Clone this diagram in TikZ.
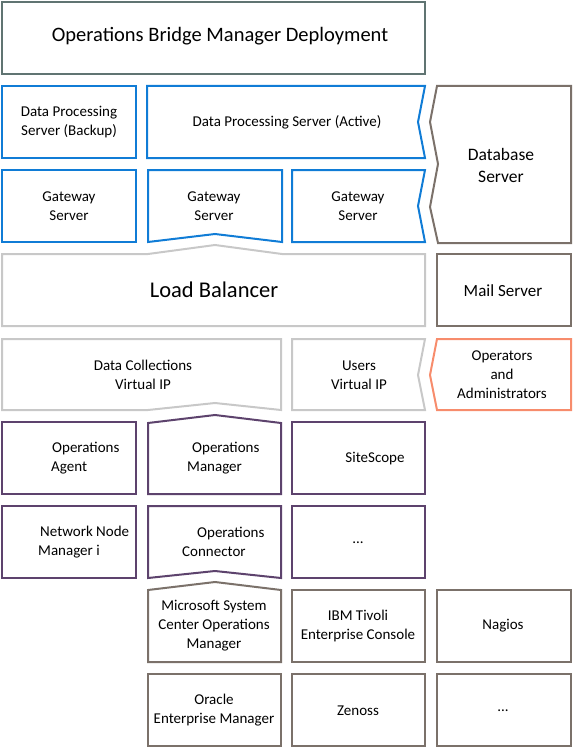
\documentclass[tikz,border=0pt]{standalone}
\usepackage{fontspec}
\setmainfont{Carlito}
\definecolor{blueC}{RGB}{16,124,214}
\definecolor{grayL}{RGB}{200,200,200}
\definecolor{brownC}{RGB}{123,113,106}
\definecolor{purpC}{RGB}{93,67,109}
\definecolor{orangeC}{RGB}{247,140,108}
\definecolor{titleC}{RGB}{96,116,114}
\begin{document}
\begin{tikzpicture}[x=1pt,y=-1pt,
  box/.style={line width=2pt,line join=miter},
  bluebox/.style={box,draw=blueC},
  graybox/.style={box,draw=grayL},
  brownbox/.style={box,draw=brownC},
  purpbox/.style={box,draw=purpC},
  orangebox/.style={box,draw=orangeC},
  titlebox/.style={box,draw=titleC,line width=2.4pt},
  lbl/.style={inner sep=0pt,align=center,font=\fontsize{15}{19}\selectfont},
  lbll/.style={lbl,align=left,anchor=west}]
\useasboundingbox (0,0) rectangle (573,749);
% title
\draw[titlebox] (2,2) rectangle (425,74);
\node[lbl,font=\fontsize{20.5}{24}\selectfont] (title) at (220,36) {Operations Bridge Manager Deployment};
% row 1
\draw[bluebox] (2,86) rectangle (136,158);
\node[lbl] (dpsb) at (69,122) {Data Processing\\Server (Backup)};
\draw[bluebox] (147,86) -- (425,86) -- (418,122) -- (425,158) -- (147,158) -- cycle;
\node[lbl] (dpsa) at (287,122) {Data Processing Server (Active)};
\draw[brownbox] (437,86) -- (571,86) -- (571,243) -- (438,243) -- (430,207) -- (438,164) -- (430,122) -- cycle;
\node[lbl,font=\fontsize{17.5}{22}\selectfont] (db) at (501,165) {Database\\Server};
% row 2
\draw[bluebox] (2,170) rectangle (136,242);
\node[lbl] (gw1) at (69,206) {Gateway\\Server};
\draw[bluebox] (148,170) -- (282,170) -- (282,242) -- (215,234) -- (148,242) -- cycle;
\node[lbl] (gw2) at (214,206) {Gateway\\Server};
\draw[bluebox] (292,170) -- (425,170) -- (418,206) -- (425,242) -- (292,242) -- cycle;
\node[lbl] (gw3) at (358,206) {Gateway\\Server};
% row 3
\draw[graybox] (2,254) -- (148,254) -- (215,245) -- (282,254) -- (425,254) -- (425,326) -- (2,326) -- cycle;
\node[lbl,font=\fontsize{22.5}{26}\selectfont] (lb) at (214,290) {Load Balancer};
\draw[brownbox] (437,254) rectangle (571,326);
\node[lbl,font=\fontsize{17}{19}\selectfont] (mail) at (503,291) {Mail Server};
% row 4
\draw[graybox] (2,339) -- (281,339) -- (281,410) -- (215,403) -- (148,410) -- (2,410) -- cycle;
\node[lbl] (dcvip) at (143,375) {Data Collections\\Virtual IP};
\draw[graybox] (292,339) -- (425,339) -- (418,375) -- (425,410) -- (292,410) -- cycle;
\node[lbl] (uvip) at (359,375) {Users\\Virtual IP};
\draw[orangebox] (437,339) -- (571,339) -- (571,410) -- (437,410) -- (430,375) -- cycle;
\node[lbl] (ops) at (502,375) {Operators\\and\\Administrators};
% row 5
\draw[purpbox] (2,422) rectangle (136,494);
\node[lbll] (oa) at (51,458) {\hspace*{1pt}Operations\\Agent};
\draw[purpbox] (148,423) -- (215,415) -- (281,423) -- (281,494) -- (148,494) -- cycle;
\node[lbll] (om) at (187,458) {\hspace*{5pt}Operations\\Manager};
\draw[purpbox] (292,422) rectangle (425,494);
\node[lbl] (ss) at (375,459) {SiteScope};
% row 6
\draw[purpbox] (2,506) rectangle (136,578);
\node[lbll] (nnm) at (38,542) {\hspace*{2pt}Network Node\\Manager i};
\draw[purpbox] (148,506) -- (281,506) -- (281,578) -- (215,571) -- (148,578) -- cycle;
\node[lbll] (oc) at (182,542) {\hspace*{15pt}Operations\\Connector};
\draw[purpbox] (292,506) rectangle (425,578);
\node[lbl] (dots1) at (358,543) {...};
% row 7
\draw[brownbox] (148,590) -- (215,582) -- (281,590) -- (281,662) -- (148,662) -- cycle;
\node[lbl] (scom) at (214,626) {Microsoft System\\Center Operations\\Manager};
\draw[brownbox] (292,590) rectangle (425,662);
\node[lbl] (ibm) at (358,626) {IBM Tivoli\\Enterprise Console};
\draw[brownbox] (437,590) rectangle (571,662);
\node[lbl] (nag) at (503,626) {Nagios};
% row 8
\draw[brownbox] (148,674) rectangle (281,746);
\node[lbl] (ora) at (214,710) {Oracle\\Enterprise Manager};
\draw[brownbox] (292,674) rectangle (425,746);
\node[lbl] (zen) at (358,711) {Zenoss};
\draw[brownbox] (437,674) rectangle (571,746);
\node[lbl] (dots2) at (503,711) {...};
\end{tikzpicture}
\end{document}
